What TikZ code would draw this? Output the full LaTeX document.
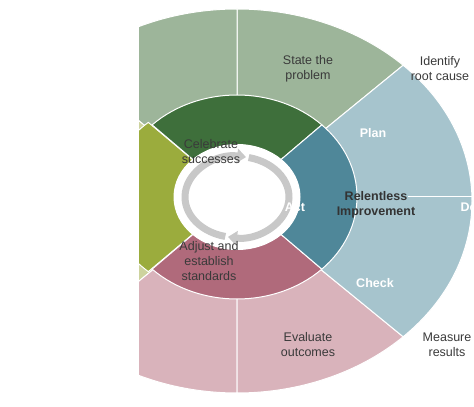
\documentclass[tikz,border=0pt]{standalone}
\usepackage{fontspec}
\setmainfont{Liberation Sans}
\usepackage{tikz}
\usetikzlibrary{positioning,calc,arrows.meta}

\definecolor{problemgreen}{HTML}{9DB59A}
\definecolor{actouter}{HTML}{CDD39E}
\definecolor{checkpink}{HTML}{D9B3BB}
\definecolor{planblue}{HTML}{A6C4CD}
\definecolor{celebgreen}{HTML}{3E6F3B}
\definecolor{actolive}{HTML}{9BAC3D}
\definecolor{adjustpink}{HTML}{B06A7B}
\definecolor{actteal}{HTML}{4F8799}
\definecolor{ringgray}{HTML}{C8C8C8}
\definecolor{labelgray}{HTML}{3A3A3A}

\begin{document}
\begin{tikzpicture}[x=1pt, y=1pt, line width=0.5pt, node distance=0.5cm, on grid,
	sep/.style={draw=white, line width=1pt},
	txt/.style={align=center, inner sep=0pt, text=labelgray, font=\fontsize{12.5}{15}\selectfont},
	head/.style={align=center, inner sep=0pt, text=white, font=\fontsize{12.5}{15}\selectfont\bfseries},
	turn/.style={draw=ringgray, line width=7pt, -{Triangle[width=14pt,length=9pt]}}]
	
	\useasboundingbox (0,0) rectangle (474,407);
	\coordinate (hub) at (237,210);
	\coordinate (rim) at (237,206);
	
	\begin{scope}
		\clip (139,0) rectangle (474,407);
		% outer ring
		\foreach \a/\b/\col in {45/90/problemgreen, 90/135/problemgreen, 135/225/actouter, 225/270/checkpink, 270/315/checkpink, -45/45/planblue}
			\filldraw[sep, fill=\col] (rim) -- ($(rim)+(\a:235 and 192)$) arc[start angle=\a, end angle=\b, x radius=235, y radius=192] -- cycle;
		\draw[sep] (408,210) -- (472,210);
		% middle ring
		\filldraw[sep, fill=actolive] (hub) -- ($(hub)+(133:130 and 102)$) arc[start angle=133, end angle=227, x radius=130, y radius=102] -- cycle;
		\foreach \a/\b/\col in {45/135/celebgreen, 225/315/adjustpink, -45/45/actteal}
			\filldraw[sep, fill=\col] (hub) -- ($(hub)+(\a:120 and 102)$) arc[start angle=\a, end angle=\b, x radius=120, y radius=102] -- cycle;
		% hole
		\filldraw[sep, fill=white] (hub) ellipse [x radius=63, y radius=52.5];
	\end{scope}
	
	\draw[turn] ($(hub)+(257:52 and 40.5)$) arc[start angle=257, end angle=80, x radius=52, y radius=40.5];
	\draw[turn] ($(hub)+(77:52 and 40.5)$) arc[start angle=77, end angle=-100, x radius=52, y radius=40.5];
	
	\node [txt, above right=128pt and 71pt of hub, anchor=center] (state) {State the\\problem};
	\node [txt, above right=128pt and 203pt of hub, anchor=center] (identify) {Identify\\root cause};
	\node [head, above right=64pt and 136pt of hub, anchor=center] (plan) {Plan};
	\node [txt, above left=45pt and 26pt of hub, anchor=center] (celebrate) {Celebrate\\successes};
	\node [txt, below right=8pt and 139pt of hub, anchor=center, font=\fontsize{12.5}{15}\selectfont\bfseries, text=black!80] (relentless) {Relentless\\Improvement};
	\node [head, below right=10pt and 232pt of hub, anchor=center] (do) {Do};
	\node [head, below right=10pt and 58pt of hub, anchor=center] (act) {Act};
	\node [txt, below left=64pt and 28pt of hub, anchor=center] (adjust) {Adjust and\\establish\\standards};
	\node [head, below right=86pt and 138pt of hub, anchor=center] (check) {Check};
	\node [txt, below right=148pt and 71pt of hub, anchor=center] (evaluate) {Evaluate\\outcomes};
	\node [txt, below right=148pt and 210pt of hub, anchor=center] (measure) {Measure\\results};
\end{tikzpicture}
\end{document}
